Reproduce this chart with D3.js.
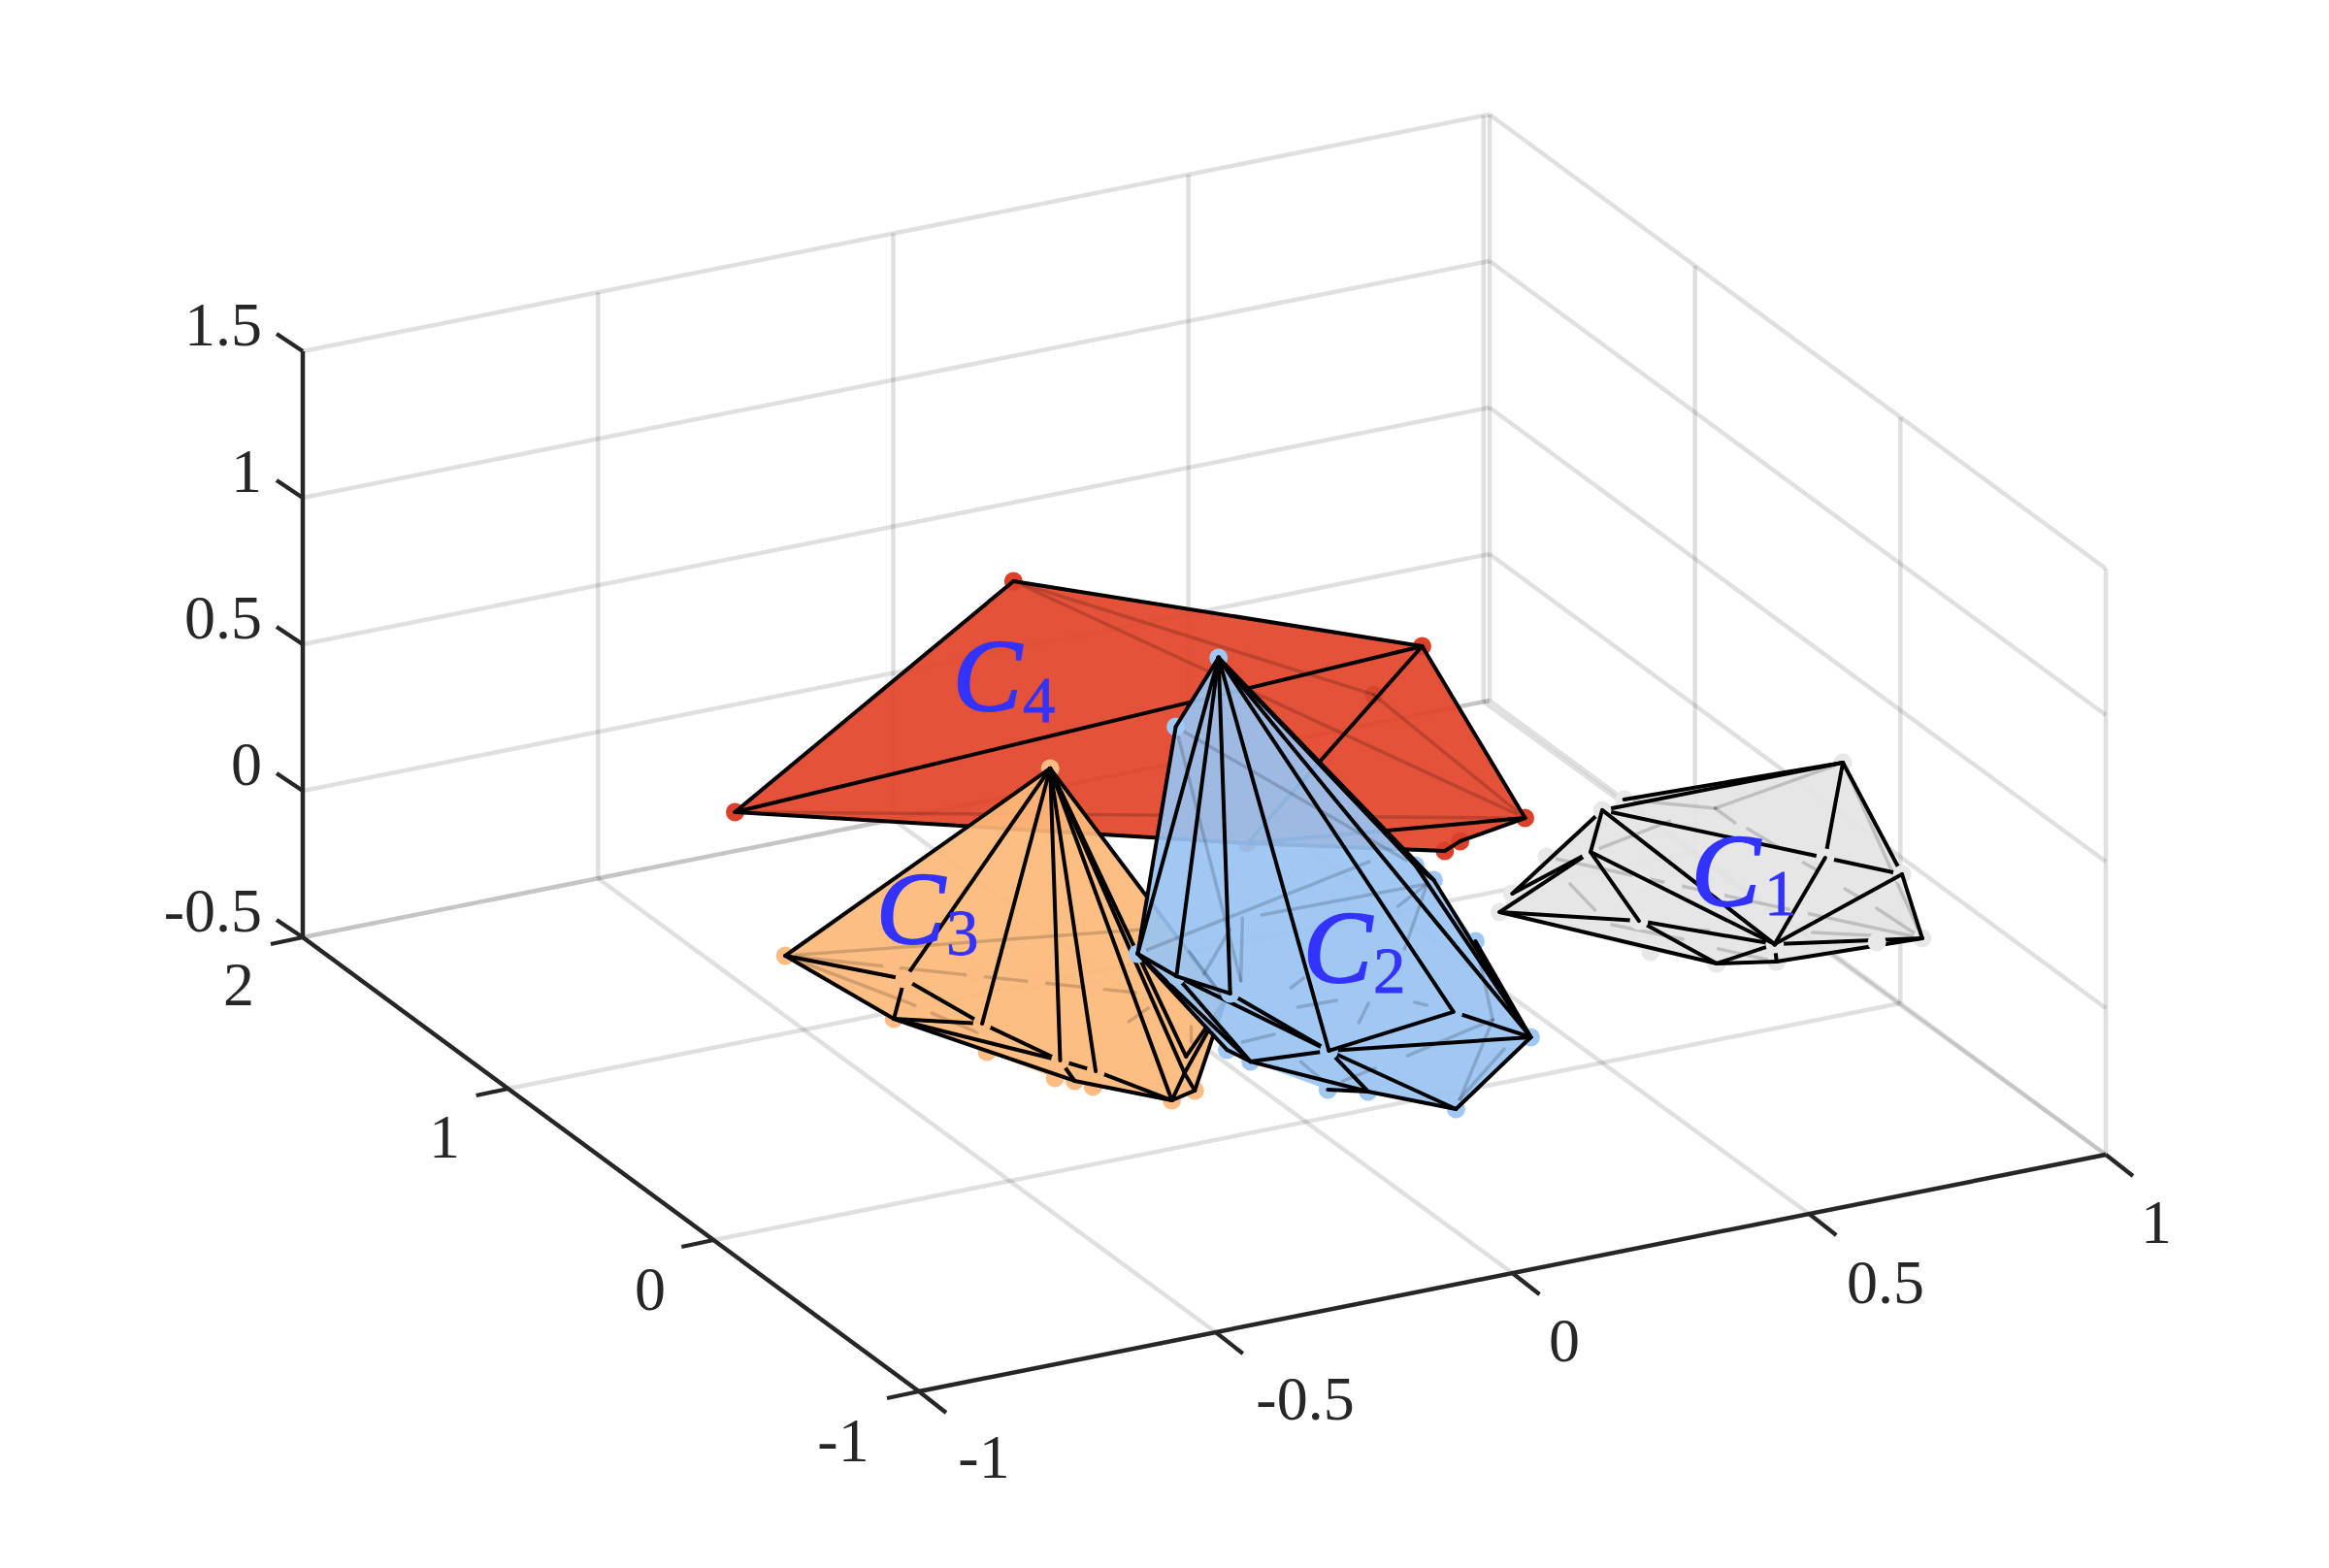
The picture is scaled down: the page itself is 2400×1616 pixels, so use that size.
<!DOCTYPE html>
<html><head><meta charset="utf-8"><style>html,body{margin:0;background:#fff}</style></head><body>
<svg id="c" width="2400" height="1616"></svg>
<script src="https://cdn.jsdelivr.net/npm/d3@7"></script>
<script>
// axis ticks
const xTicks=[-1,-0.5,0,0.5,1];
const yTicks=[-1,0,1,2];
const zTicks=[-0.5,0,0.5,1,1.5];
// hull vertices [x,y,z]
const c4Points=[[0.056,1.591,0.5],[0.481,0.829,0.5],[0.572,0.591,0],[-0.465,1.441,0],[0.497,0.690,-0.1],[0.459,0.655,-0.1],[0.211,0.900,-0.1],[0.435,0.932,0.3]];
const c4Outline=[3,0,1,2,4,5,6];
const c4Front=[[3,6],[6,5],[4,5],[2,4],[2,6],[1,6],[0,1],[1,3],[0,3],[1,2]];
const c4Over=[];
const c4Hidden=[[0,7],[7,2],[0,2],[3,2]];
const c4Ghost=[7];const c4Masks=[];const c4Low=[0,1,2,3,4,5,6];const c4Top=[];const c4Dots=[];

const c3Points=[[-0.285,0.427,0.6],[-0.657,0.642,0],[-0.521,0.506,-0.2],[-0.457,0.238,-0.2],[-0.414,0.031,-0.2],[-0.393,-0.004,-0.2],[-0.379,-0.053,-0.2],[-0.299,-0.206,-0.2],[-0.251,-0.179,-0.2],[-0.541,0.397,0],[-0.518,0.085,0],[-0.481,-0.188,0],[-0.453,-0.280,0],[-0.286,-0.230,-0.1],[-0.307,-0.298,0],[-0.154,-0.046,0],[-0.136,0.408,0],[-0.528,0.496,0],[-0.436,0.354,0],[-0.367,0.255,0],[-0.305,0.155,0],[-0.259,0.087,0],[-0.566,0.192,0],[-0.540,0.044,0],[-0.574,0.250,0],[-0.320,-0.057,0],[-0.270,-0.007,0],[-0.246,-0.147,0],[-0.274,-0.228,0]];
const c3Outline=[1,0,15,8,7,6,5,4,3,2];
const c3Front=[[0,1],[0,9],[1,9],[1,2],[9,2],[9,10],[2,10],[2,11],[10,11],[2,5],[11,12],[11,5],[12,7],[5,7],[7,8],[7,13],[13,8],[13,15],[14,15],[15,8],[0,7],[0,13],[0,14],[0,15]];
const c3Over=[[0,10],[0,11],[0,12]];
const c3Hidden=[[1,16],[1,21],[1,24],[22,23],[25,26],[27,28]];
const c3Ghost=[];const c3Masks=[17,18,19,20];const c3Low=[0,1,2,3,4,5,6,7,8];const c3Top=[9,10,11,12];const c3Dots=[];

const c2Points=[[0.032,0.523,0.8],[0.062,0.818,0.4],[-0.186,0.287,0],[-0.175,0.130,0],[-0.135,-0.016,0],[-0.107,-0.416,0],[-0.125,-0.086,-0.2],[-0.135,-0.001,-0.2],[-0.073,-0.312,-0.2],[-0.023,-0.364,-0.2],[0.062,-0.546,-0.2],[0.185,-0.555,0],[0.128,-0.343,0],[0.183,0.001,0.3],[0.181,-0.094,0.3],[0.179,-0.303,0.2],[0.218,0.045,0.2],[-0.088,0.060,0.2],[0.166,-0.425,0],[0.023,-0.172,0],[-0.098,0.039,0],[0.181,0.221,0.2],[-0.057,0.055,0.2],[0.139,-0.041,0.2],[0.071,-0.270,0.2],[-0.012,-0.523,0],[-0.135,0.112,0],[-0.020,0.317,0],[-0.114,0.243,0],[-0.151,-0.029,0],[-0.070,-0.157,0],[-0.006,-0.162,0],[-0.044,-0.049,0],[-0.010,-0.012,0],[-0.017,-0.301,0],[0.031,-0.210,0],[0.094,-0.253,0],[0.105,-0.281,0],[-0.206,-0.281,0],[-0.150,-0.274,0],[-0.164,-0.443,0],[-0.169,-0.567,0],[-0.143,-0.587,0],[-0.077,-0.555,0],[0.129,-0.588,0],[-0.024,-0.808,0],[0.073,-0.672,0]];
const c2Outline=[0,13,14,15,11,10,9,8,6,7,2,1];
const c2Front=[[0,1],[1,2],[0,2],[2,6],[2,7],[7,6],[3,6],[3,5],[4,5],[6,5],[6,9],[8,9],[9,10],[10,11],[12,11],[5,11],[5,9],[5,10],[0,13],[0,14],[0,11],[13,14],[13,11],[14,11],[15,11]];
const c2Over=[[0,3],[2,3],[0,4],[3,4],[0,5],[0,12],[5,12]];
const c2Hidden=[[1,20],[1,13],[2,21],[22,16],[16,23],[16,24],[25,18],[18,10],[15,18],[26,27],[28,29],[30,31],[32,33],[34,35],[36,37],[38,39],[40,41],[42,43],[44,45],[17,20]];
const c2Ghost=[];const c2Masks=[];const c2Low=[0,1,2,6,7,8,9,10,11,13,14,15];const c2Top=[3,4,5,12];const c2Dots=[0];

const c1Points=[[0.935,0.092,0.3],[0.583,0.247,0.2],[0.684,0.432,0.1],[0.545,0.194,0.1],[0.419,0.211,0],[0.369,0.128,0],[0.531,0.367,0],[0.538,-0.062,0],[0.617,-0.212,-0.1],[0.550,-0.083,-0.1],[0.700,-0.264,-0.1],[0.676,-0.324,0],[0.793,-0.232,0.2],[0.918,-0.245,0.1],[0.935,-0.294,-0.1],[0.868,-0.267,-0.1],[0.789,0.292,0.1],[0.865,-0.048,0],[0.789,0.196,0.1],[0.795,0.152,0.1],[0.803,0.018,0.1],[0.706,0.273,0.1],[0.737,0.281,0.1],[0.513,0.202,0],[0.499,0.039,0],[0.616,0.153,0],[0.646,0.085,0],[0.685,-0.010,0],[0.764,-0.187,0],[0.495,-0.054,0],[0.563,-0.203,0],[0.593,-0.290,0],[0.808,-0.082,0.1],[0.812,-0.130,0.1],[0.816,-0.261,0.1],[0.819,-0.314,0.1],[0.823,-0.395,0.1],[0.747,-0.302,0],[0.819,-0.378,0],[0.585,-0.156,0],[0.613,-0.185,0]];
const c1Outline=[2,0,13,14,10,8,9,5,4,6,1];
const c1Front=[[2,0],[1,0],[1,4],[3,4],[3,5],[5,7],[5,8],[7,11],[7,8],[8,11],[8,10],[10,11],[11,14],[10,14],[0,12],[0,13],[12,13],[1,12]];
const c1Over=[[1,3],[1,11],[3,7],[3,11],[11,12],[11,13],[13,14]];
const c1Hidden=[[0,16],[16,2],[16,18],[19,20],[3,21],[6,14],[23,24],[29,30],[31,10],[32,33],[34,35],[36,14],[37,38],[39,40],[0,14]];
const c1Ghost=[];const c1Masks=[25,26,27,28];const c1Low=[0,2,4,5,6,8,9,10,14];const c1Top=[1,3,7,11,12,13,15];const c1Dots=[11];

// library scales: axis values to picture offsets
const xToPx=d3.scaleLinear().domain([-1,1]).range([947,2170]);
const xToPy=d3.scaleLinear().domain([-1,1]).range([1434,1190]);
const yToPx=d3.scaleLinear().domain([-1,2]).range([0,-635]);
const yToPy=d3.scaleLinear().domain([-1,2]).range([0,-468]);
const zToPy=d3.scaleLinear().domain([-0.5,1.5]).range([0,-604]);
const backX=d3.scaleLinear().domain([-1,1]).range([-1,0.99]); // grid on the back wall runs slightly short
const P=([x,y,z])=>[xToPx(x)+yToPx(y),xToPy(x)+yToPy(y)+zToPy(z)];

const svg=d3.select('#c');
const INK='#262626',SERIF="'Liberation Serif','Times New Roman',serif";
const seg=(g,a,b,attrs)=>{const p=P(a),q=P(b);const l=g.append('line').attr('x1',p[0]).attr('y1',p[1]).attr('x2',q[0]).attr('y2',q[1]);Object.entries(attrs).forEach(([k,v])=>l.attr(k,v));return l};

// grid
const grid=svg.append('g');
const GA={stroke:'#262626','stroke-opacity':0.14,'stroke-width':4.5};
const xMin=-1,xMax=1,yMin=-1,yMax=2,zMin=-0.5,zMax=1.5;
xTicks.forEach(x=>{seg(grid,[x,yMin,zMin],[backX(x),yMax,zMin],GA);seg(grid,[backX(x),yMax,zMin],[backX(x),yMax,zMax],GA)});
yTicks.forEach(y=>{seg(grid,[xMin,y,zMin],[xMax,y,zMin],GA);seg(grid,[xMax,y,zMin],[xMax,y,zMax],GA)});
zTicks.forEach(z=>{seg(grid,[xMin,yMax,z],[xMax,yMax,z],GA);seg(grid,[xMax,yMin,z],[xMax,yMax,z],GA)});

// hulls
function hull(pts,outline,hidden,ghost,masks,low,front,top,over,dots,col,solid,mr){
  const g=svg.append('g');const pp=pts.map(P);
  const circ=(ids,c,r,o)=>g.append('g').selectAll('circle').data(ids).join('circle').attr('cx',i=>pp[i][0]).attr('cy',i=>pp[i][1]).attr('r',r).attr('fill',c).attr('fill-opacity',o==null?1:o);
  const lines=(es,c,o,w)=>g.append('g').selectAll('line').data(es).join('line').attr('x1',e=>pp[e[0]][0]).attr('y1',e=>pp[e[0]][1]).attr('x2',e=>pp[e[1]][0]).attr('y2',e=>pp[e[1]][1]).attr('stroke',c).attr('stroke-opacity',o).attr('stroke-width',w).attr('stroke-linecap','round');
  circ(ghost,'#000',mr,.6);
  g.append('path').attr('d',d3.line()(outline.map(i=>pp[i]))+'Z').attr('fill',col).attr('fill-opacity',.92);
  lines(hidden,'#000',.17,3.5);
  circ(masks,solid,mr);
  circ(low,solid,mr);
  lines(front,'#000',1,4);
  circ(top,solid,mr);
  lines(over,'#000',1,4);
  circ(dots,'#000',2.6);
}
hull(c4Points,c4Outline,c4Hidden,c4Ghost,c4Masks,c4Low,c4Front,c4Top,c4Over,c4Dots,'#e14328','#dc4029',9.5);
hull(c3Points,c3Outline,c3Hidden,c3Ghost,c3Masks,c3Low,c3Front,c3Top,c3Over,c3Dots,'#fdb87a','#fcbc84',9.5);
hull(c2Points,c2Outline,c2Hidden,c2Ghost,c2Masks,c2Low,c2Front,c2Top,c2Over,c2Dots,'#98c3f2','#a0c8f3',9.5);
hull(c1Points,c1Outline,c1Hidden,c1Ghost,c1Masks,c1Low,c1Front,c1Top,c1Over,c1Dots,'#e4e4e4','#e8e8e8',9.5);

// axes
const ax=svg.append('g');
const AA={stroke:INK,'stroke-width':4.4};
seg(ax,[xMin,yMax,zMin],[xMin,yMax,zMax],AA);
seg(ax,[xMin,yMin,zMin],[xMin,yMax,zMin],AA);
seg(ax,[xMin,yMin,zMin],[xMax,yMin,zMin],AA);
const tickLen=(p,dx,dy)=>ax.append('line').attr('x1',p[0]).attr('y1',p[1]).attr('x2',p[0]+dx).attr('y2',p[1]+dy).attr('stroke',INK).attr('stroke-width',4.2);
zTicks.forEach(z=>tickLen(P([xMin,yMax,z]),-27,-18));
yTicks.forEach(y=>tickLen(P([xMin,y,zMin]),-33,7));
xTicks.forEach(x=>tickLen(P([x,yMin,zMin]),28,22));

// tick labels
const lab=svg.append('g').attr('font-family',SERIF).attr('font-size',64).attr('fill',INK);
const zLab=[['-0.5',939],['0',788],['0.5',637],['1',486],['1.5',335]];
lab.selectAll('.z').data(zLab).join('text').attr('text-anchor','end').attr('x',270).attr('y',d=>d[1]+21).text(d=>d[0]);
const yLab=[['-1',869,1485],['0',670,1329],['1',458,1172],['2',246,1015]];
lab.selectAll('.y').data(yLab).join('text').attr('text-anchor','middle').attr('x',d=>d[1]).attr('y',d=>d[2]+21).text(d=>d[0]);
const xLab=[['-1',1014,1502],['-0.5',1345,1442],['0',1612,1382],['0.5',1943,1322],['1',2222,1260]];
lab.selectAll('.x').data(xLab).join('text').attr('text-anchor','middle').attr('x',d=>d[1]).attr('y',d=>d[2]+21).text(d=>d[0]);

// cluster labels
const clusterNames=['C','C','C','C'];
const clusterSubs=['1','2','3','4'];
const labelSpots=[[1748,933,1820,943],[1348,1012,1417,1023],[908,972,977,984],[987,732,1056,744]];
const cl=svg.append('g').attr('font-family',SERIF).attr('fill','#3333ff');
labelSpots.forEach((s,i)=>{
  cl.append('text').attr('x',s[0]-5).attr('y',s[1]).attr('font-size',106).attr('font-style','italic').attr('stroke','#3333ff').attr('stroke-width',2.2).text(clusterNames[i]);
  cl.append('text').attr('x',s[2]-2).attr('y',s[3]).attr('font-size',67).attr('stroke','#3333ff').attr('stroke-width',.8).text(clusterSubs[i]);
});
</script></body></html>
